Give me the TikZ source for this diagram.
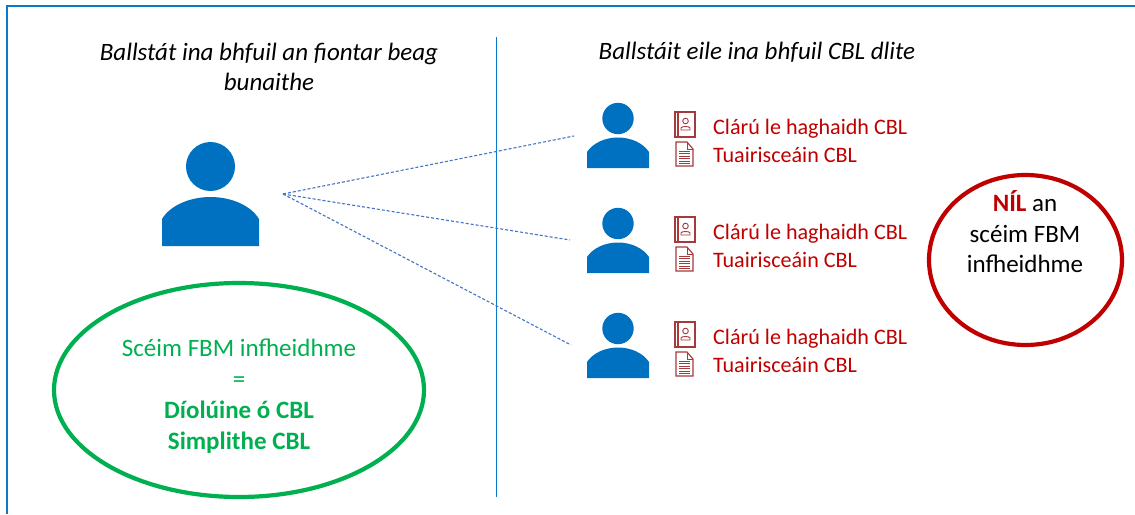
\documentclass[tikz,border=0pt]{standalone}
\usepackage{fontspec}
\usetikzlibrary{shapes.geometric}
\setmainfont{Carlito}
\definecolor{iconblue}{HTML}{0070C0}
\definecolor{framebl}{HTML}{0B78C9}
\definecolor{linebl}{HTML}{4472C4}
\definecolor{txtred}{HTML}{C00000}
\definecolor{iconred}{HTML}{A5393B}
\definecolor{grn}{HTML}{00B050}
\tikzset{
  x=1pt,y=-1pt,
  personshape/.pic={
    \fill[iconblue] (0,-49.5) circle[radius=15.7];
    \fill[iconblue] (-31,0) -- (-31,-16) .. controls (-25,-25) and (-13,-30.5) .. (0,-30.5) .. controls (13,-30.5) and (25,-25) .. (31,-16) -- (31,0) -- cycle;
  },
  bigperson/.pic={
    \fill[iconblue] (0,-79.5) circle[radius=24.5];
    \fill[iconblue] (-48.5,0) -- (-48.5,-27) .. controls (-40,-41) and (-20,-49) .. (0,-49) .. controls (20,-49) and (40,-41) .. (48.5,-27) -- (48.5,0) -- cycle;
  },
  bookicon/.pic={
    \draw[iconred,line width=1.1pt] (0,0) rectangle (20,25);
    \draw[iconred,line width=1.1pt] (3,0) -- (3,25);
    \draw[iconred,line width=.9pt] (10.5,9) circle[radius=2.8];
    \draw[iconred,line width=.9pt] (6,18) -- (6,16) .. controls (6,14) and (15,14) .. (15,16) -- (15,18) -- cycle;
  },
  docicon/.pic={
    \draw[iconred,line width=1.1pt] (0,0) -- (11,0) -- (17,7) -- (17,24) -- (0,24) -- cycle;
    \draw[iconred,line width=.8pt] (11,0) -- (11,7) -- (17,7);
    \foreach \yy in {9,11.5,14,16.5,19,21.5}{\draw[iconred,line width=1pt] (3,\yy) -- (14,\yy);}
  },
  heading/.style={font=\itshape\fontsize{25}{30}\selectfont,align=center,text=black},
  redtxt/.style={font=\fontsize{22.1}{24}\selectfont,text=txtred,anchor=west,inner sep=0pt},
  grntxt/.style={font=\fontsize{25}{31}\selectfont,text=grn,align=center},
  blacktxt/.style={font=\fontsize{25}{30.5}\selectfont,align=center,text=black},
  dotlink/.style={draw=linebl,line width=1.1pt,dash pattern=on 3pt off 2pt},
  ring/.style={draw=#1,line width=4.2pt,ellipse,inner sep=0pt},
}
\begin{document}
\begin{tikzpicture}
\useasboundingbox (0,0) rectangle (1135,514);
\fill[white] (0,0) rectangle (1135,514);
\draw[framebl,line width=2.8pt] (7,514) -- (7,6) -- (1135,6);
\draw[framebl,line width=1.1pt] (496.5,37) -- (496.5,497);

\node[heading] (h1) at (269,67) {Ballstát ina bhfuil an fiontar beag\\bunaithe};
\node[heading] (h2) at (757,52) {Ballstáit eile ina bhfuil CBL dlite};

\pic at (210.5,246) {bigperson};
\coordinate (hub) at (283,194);
\coordinate (e1) at (574,136);
\coordinate (e2) at (570,240);
\coordinate (e3) at (571,345);
\draw[dotlink] (hub) -- (e1);
\draw[dotlink] (hub) -- (e2);
\draw[dotlink] (hub) -- (e3);

\foreach \dy/\nm in {0/a,105/b,210/c}{
  \pic at (618,168+\dy) {personshape};
  \pic at (675,112+\dy) {bookicon};
  \pic at (676,142+\dy) {docicon};
  \node[redtxt] (reg\nm) at (713,129+\dy) {Clárú le haghaidh CBL};
  \node[redtxt] (ret\nm) at (713,154.5+\dy) {Tuairisceáin CBL};
}

\node[ring=grn,minimum width=370pt,minimum height=214pt] (ge) at (239,390) {};
\node[grntxt] (g) at (239,396) {Scéim FBM infheidhme\\=\\\textbf{Díolúine ó CBL}\\\textbf{Simplithe CBL}};

\node[ring=txtred,minimum width=193pt,minimum height=170pt] (re) at (1025.5,260) {};
\node[blacktxt] (r) at (1025,232) {\textcolor{txtred}{\textbf{NÍL}} an\\scéim FBM\\infheidhme};
\end{tikzpicture}
\end{document}
